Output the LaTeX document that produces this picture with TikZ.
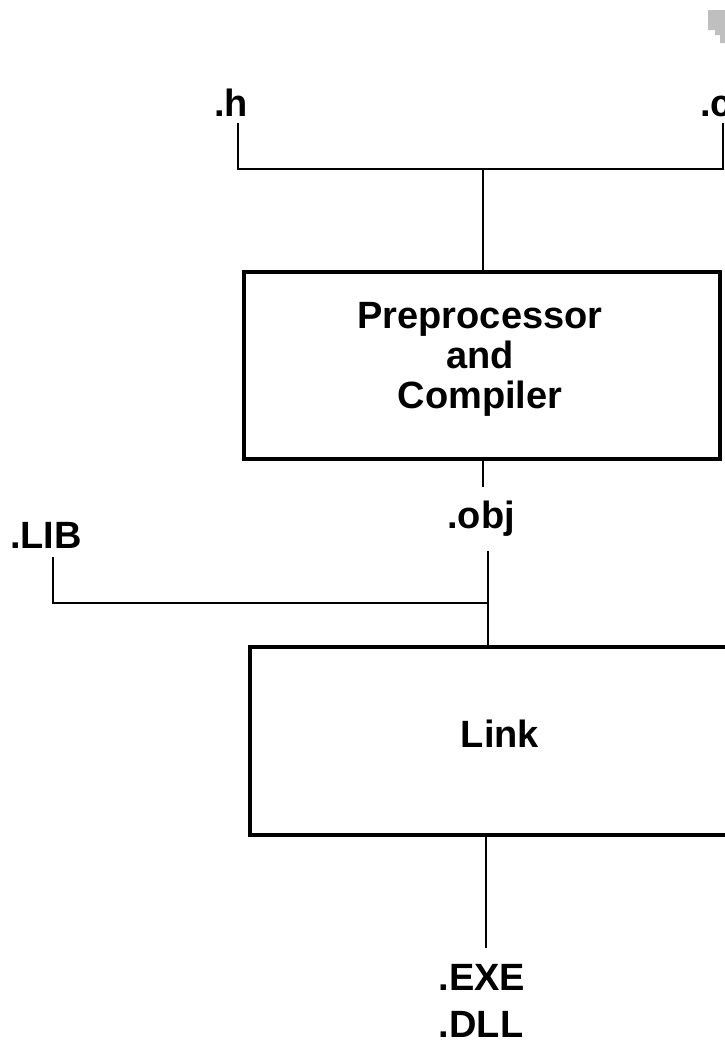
\documentclass[tikz,border=0pt]{standalone}
\usepackage{fontspec}
\setmainfont{Liberation Sans}
\begin{document}
\begin{tikzpicture}[x=1pt,y=-1pt,
  lbl/.style={inner sep=0pt, anchor=base, font=\fontsize{38}{40}\selectfont\bfseries},
  stage/.style={draw=black, line width=3.6pt, fill=white, inner sep=0pt},
  conn/.style={draw=black, line width=1.8pt}]
\useasboundingbox (0,0) rectangle (725,1042);
% small grey mark at the top right
\fill[black!25] (708,10) -- (725,10) -- (725,43) -- (720,43) -- (720,35) -- (715,35) -- (715,30) -- (708,30) -- cycle;
% inputs
\node[lbl] (h) at (231,116) {.h};
\node[lbl] (c) at (716,116) {.c};
\coordinate (hb) at (238,123);
\coordinate (cb) at (723,123);
\coordinate (join1) at (483,169);
% preprocessor and compiler
\node[stage, minimum width=476.5pt, minimum height=187pt] (pc) at (482,365.5) {};
\node[lbl] (pc1) at (480,328) {Preprocessor};
\node[lbl] (pc2) at (480,368) {and};
\node[lbl] (pc3) at (480,408) {Compiler};
\draw[conn] (hb) |- (join1) -| (cb);
\draw[conn] (join1) -- (join1 |- pc.north);
% obj
\node[lbl] (obj) at (481,528) {.obj};
\coordinate (objtop) at (483,487);
\draw[conn] (objtop |- pc.south) -- (objtop);
\coordinate (objb) at (488,551);
\coordinate (join2) at (488,603);
% lib
\node[lbl] (lib) at (46,548) {.LIB};
\coordinate (libb) at (53,557);
% link
\node[stage, minimum width=500pt, minimum height=188pt] (link) at (500,741) {};
\node[lbl] (linkt) at (500,747) {Link};
\draw[conn] (objb) -- (objb |- link.north);
\draw[conn] (libb) |- (join2);
% outputs
\coordinate (outb) at (486,948);
\draw[conn] (outb |- link.south) -- (outb);
\node[lbl] (exe) at (482,990) {.EXE};
\node[lbl] (dll) at (481,1037) {.DLL};
\end{tikzpicture}
\end{document}
